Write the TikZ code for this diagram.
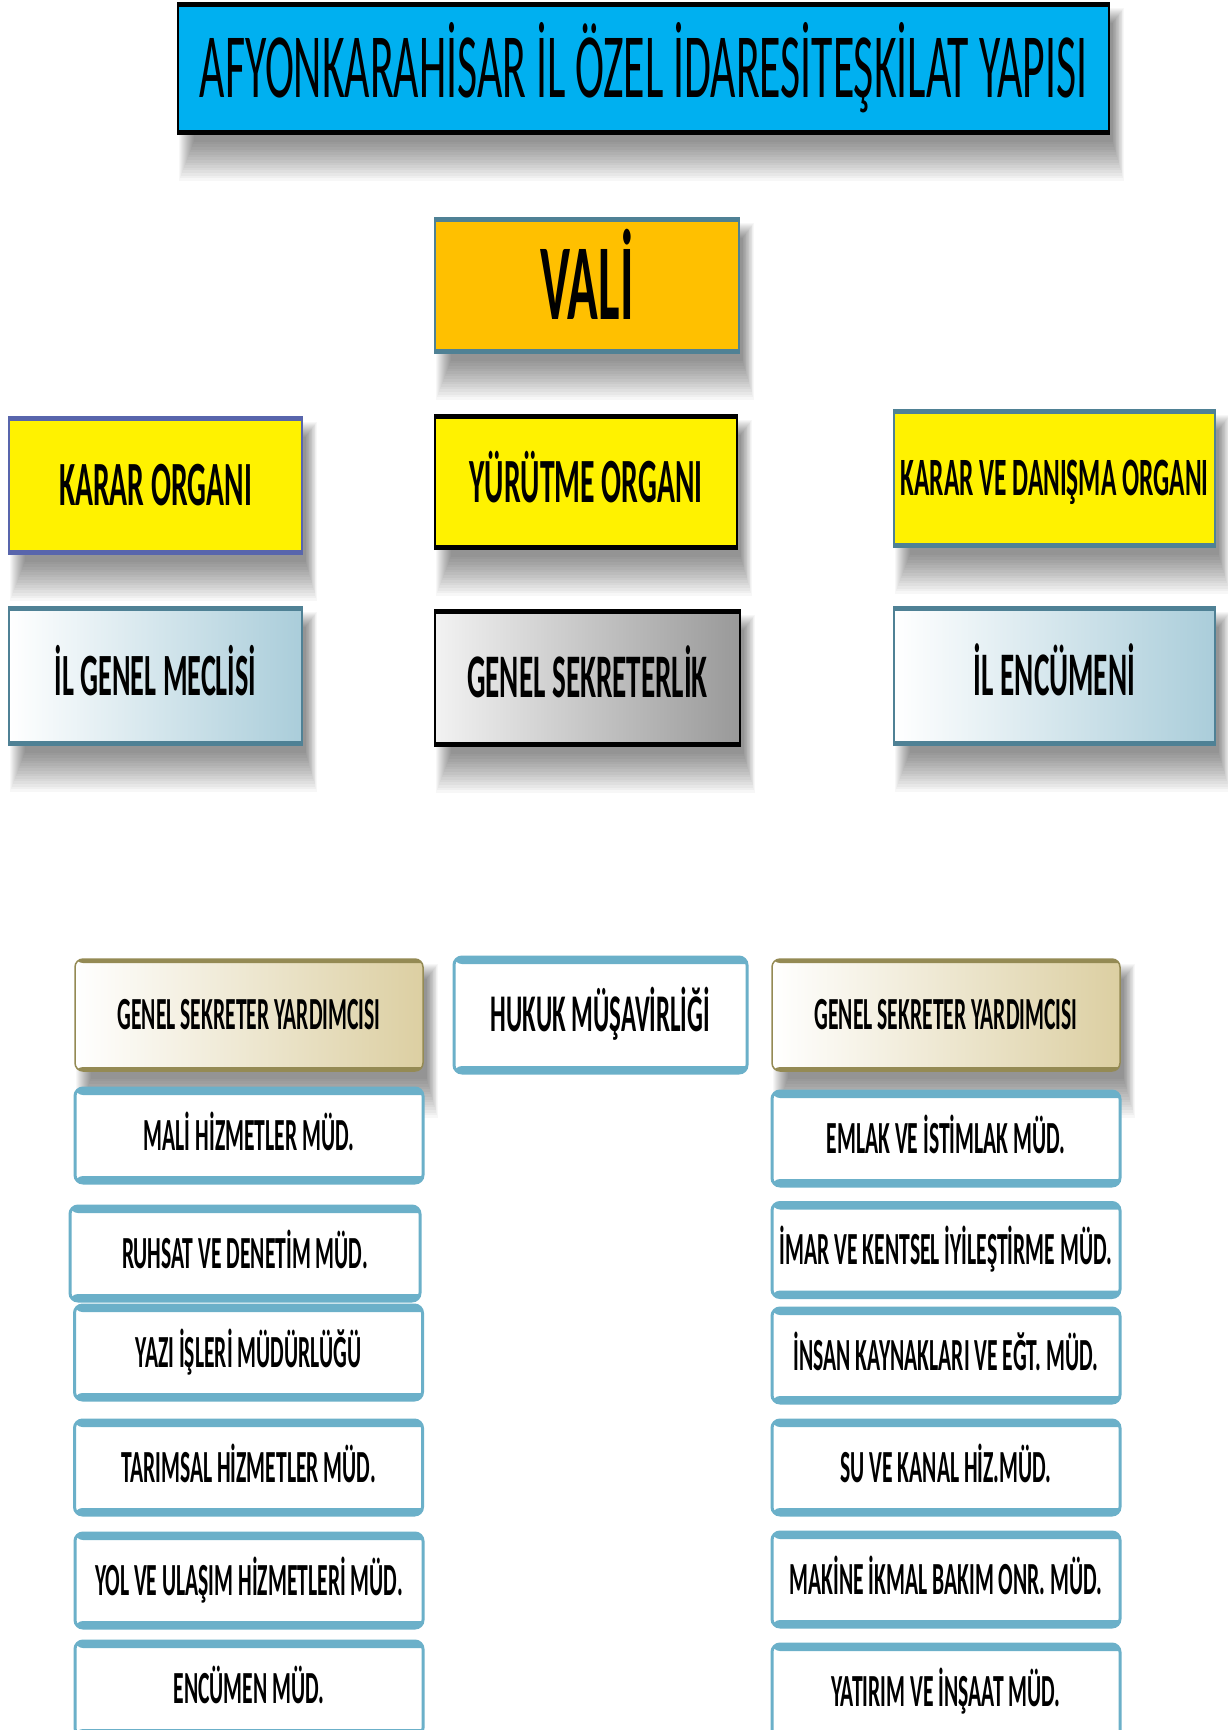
\documentclass[tikz,border=0pt]{standalone}
\usepackage{fontspec}
\setmainfont{Carlito}[FakeStretch=0.47]
\newfontfamily\titlefont{Carlito}[FakeStretch=0.475]
\usetikzlibrary{backgrounds}

\definecolor{titlecyan}{RGB}{0,176,240}
\definecolor{valiorange}{RGB}{255,192,0}
\definecolor{tealline}{RGB}{79,129,149}
\definecolor{purpleline}{RGB}{88,101,172}
\definecolor{meclisblue}{RGB}{170,205,218}
\definecolor{olive}{RGB}{148,138,84}
\definecolor{tan}{RGB}{220,207,162}
\definecolor{boxblue}{RGB}{107,176,201}

\tikzset{
  band/.style 2 args={path picture={
      \fill[#1] (path picture bounding box.north west) rectangle ++(2000,#2);
      \fill[#1] (path picture bounding box.south west) rectangle ++(2000,-#2);}},
  topbox/.style={rectangle, inner sep=0pt, line width=1.5pt, text depth=0pt},
  midtext/.style={font=\fontsize{#1}{#1}\selectfont\bfseries},
  gsybox/.style={rectangle, rounded corners=8pt, inner sep=0pt, draw=olive, line width=1.5pt,
      left color=white, right color=tan, band={olive}{4},
      minimum width=348, minimum height=112, text depth=0pt, text height=29pt,
      font=\fontsize{46}{46}\selectfont\bfseries},
  mudbox/.style={rectangle, rounded corners=8pt, inner sep=0pt, draw=boxblue, line width=3pt,
      fill=white, band={boxblue}{7},
      minimum width=348, minimum height=95, text depth=0pt, text height=29pt,
      font=\fontsize{46}{46}\selectfont\bfseries},
}

\begin{document}
\begin{tikzpicture}[x=1pt,y=-1pt]
\useasboundingbox (0,0) rectangle (1227,1730);

% ust kisim
\node[topbox, draw=black, fill=titlecyan, band={black}{4}, minimum width=931, minimum height=131,
  font=\titlefont\fontsize{92}{92}\selectfont, text height=58pt] (title) at (643.5,68.5)
  {AFYONKARAHİSAR İL ÖZEL İDARESİTEŞKİLAT YAPISI};
\node[topbox, draw=tealline, fill=valiorange, band={tealline}{4}, minimum width=304, minimum height=135,
  midtext=108, text height=68pt] (vali) at (587,285.5) {VALİ};

% organlar
\node[topbox, draw=purpleline, fill=yellow, band={purpleline}{4}, minimum width=293, minimum height=137,
  midtext=63, text height=40pt] (karar) at (155.5,485.5) {KARAR ORGANI};
\node[topbox, draw=black, fill=yellow, band={black}{4}, minimum width=302, minimum height=134,
  midtext=63, text height=40pt] (yurutme) at (586,482) {YÜRÜTME ORGANI};
\node[topbox, draw=tealline, fill=yellow, band={tealline}{4}, minimum width=321, minimum height=137,
  midtext=54, text height=34pt] (danisma) at (1054.5,478.5) {KARAR VE DANIŞMA ORGANI};

\node[topbox, draw=tealline, left color=white, right color=meclisblue, band={tealline}{4},
  minimum width=293, minimum height=138, midtext=60, text height=38pt] (meclis) at (155.5,676) {İL GENEL MECLİSİ};
\node[topbox, draw=black, left color=black!5, right color=black!40, band={black}{4},
  minimum width=305, minimum height=136, midtext=62, text height=39pt] (sekreter) at (587.5,678) {GENEL SEKRETERLİK};
\node[topbox, draw=tealline, left color=white, right color=meclisblue, band={tealline}{4},
  minimum width=321, minimum height=138, midtext=62, text height=39pt] (encumen) at (1054.5,676) {İL ENCÜMENİ};

% mudurlukler
\node[gsybox] (gsyL) at (249,1015) {GENEL SEKRETER YARDIMCISI};
\node[mudbox, minimum width=293, minimum height=116, font=\fontsize{53}{53}\selectfont\bfseries,
  text height=33pt] (hukuk) at (600.5,1015) {HUKUK MÜŞAVİRLİĞİ};
\node[gsybox] (gsyR) at (946,1015) {GENEL SEKRETER YARDIMCISI};

\node[mudbox] (mali) at (249,1135.5) {MALİ HİZMETLER MÜD.};
\node[mudbox, minimum width=350] (ruhsat) at (245,1253.5) {RUHSAT VE DENETİM MÜD.};
\node[mudbox] (yazi) at (248.5,1352.5) {YAZI İŞLERİ MÜDÜRLÜĞÜ};
\node[mudbox] (tarim) at (248.5,1467.5) {TARIMSAL HİZMETLER MÜD.};
\node[mudbox] (yol) at (249,1580.5) {YOL VE ULAŞIM HİZMETLERİ MÜD.};
\node[mudbox] (encmud) at (249,1688.5) {ENCÜMEN MÜD.};

\node[mudbox] (emlak) at (946,1138.5) {EMLAK VE İSTİMLAK MÜD.};
\node[mudbox] (imar) at (946,1250) {İMAR VE KENTSEL İYİLEŞTİRME MÜD.};
\node[mudbox] (insan) at (946,1355.5) {İNSAN KAYNAKLARI VE EĞT. MÜD.};
\node[mudbox] (su) at (946,1467.5) {SU VE KANAL HİZ.MÜD.};
\node[mudbox] (makine) at (946,1579.5) {MAKİNE İKMAL BAKIM ONR. MÜD.};
\node[mudbox] (yatirim) at (946,1691.5) {YATIRIM VE İNŞAAT MÜD.};

% golgeler (ust uste binen yari saydam katmanlar)
\begin{scope}[on background layer]
\fill[white] (0,0) rectangle (1227,1730);
\foreach \n in {title,vali,karar,yurutme,danisma,meclis,sekreter,encumen,gsyL,gsyR}{
  \foreach \k in {0,...,15}
    \fill[black, opacity=0.032] ([xshift={2+\k}, yshift={-6-\k}]\n.north west)
      rectangle ([xshift={14-0.75*\k}, yshift={-(46-2.6*\k)}]\n.south east);
}
\end{scope}
\end{tikzpicture}
\end{document}
